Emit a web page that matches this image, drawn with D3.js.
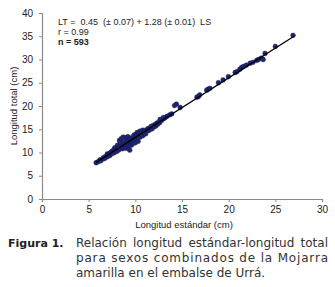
<!DOCTYPE html>
<html>
<head>
<meta charset="utf-8">
<script src="https://cdn.jsdelivr.net/npm/d3@7"></script>
<style>
  body { margin: 0; background: #fff; }
  svg { display: block; }
</style>
</head>
<body>
<div id="chart"></div>
<script>
// Longitud estándar (LS) vs longitud total (LT), cm
const ls = [
  5.8, 6.0, 6.2, 6.3, 6.5, 6.6, 6.7, 6.8, 6.9, 7.0, 7.0, 7.1, 7.2, 7.3, 7.3, 7.4, 7.5, 7.5, 7.6, 7.7,
  7.7, 7.8, 7.8, 7.9, 8.0, 8.0, 8.1, 8.1, 8.2, 8.2, 8.3, 8.3, 8.4, 8.4, 8.5, 8.5, 8.6, 8.6, 8.7, 8.7,
  8.8, 8.8, 8.9, 8.9, 9.0, 9.0, 9.1, 9.1, 9.2, 9.2, 9.3, 9.3, 9.4, 9.4, 9.5, 9.5, 9.6, 9.6, 9.7, 9.7,
  9.8, 9.8, 9.9, 9.9, 10.0, 10.0, 10.1, 10.1, 10.2, 10.2, 10.3, 10.3, 10.4, 10.5, 10.5, 10.6, 10.7, 10.8, 10.8, 10.9,
  11.0, 11.1, 11.2, 11.3, 11.4, 11.5, 11.6, 11.7, 11.8, 11.9, 12.0, 12.1, 12.2, 12.3, 12.4, 12.5, 12.6, 12.8, 13.0, 13.2,
  13.4, 13.7, 12.65, 13.0, 13.9, 14.4, 14.2, 14.8, 16.6, 16.75, 16.9, 17.65, 17.8, 18.0, 18.9, 19.4, 19.97, 20.7, 20.9, 21.2,
  21.4, 21.6, 21.9, 22.3, 22.6, 23.0, 23.2, 23.5, 23.7, 23.9, 25.0, 26.9
];
const lt = [
  7.8, 8.0, 8.4, 8.2, 8.6, 8.9, 8.7, 9.1, 9.0, 9.4, 9.7, 9.2, 9.6, 9.9, 9.4, 10.0, 9.8, 10.3, 10.1, 10.6,
  9.9, 10.4, 11.0, 10.7, 10.2, 11.2, 10.8, 11.6, 10.5, 11.0, 12.6, 10.9, 11.3, 12.4, 13.0, 11.1, 11.8, 10.8, 13.3, 11.4,
  12.1, 11.0, 13.2, 11.7, 12.3, 10.9, 12.8, 11.6, 12.1, 13.4, 11.3, 12.6, 10.5, 12.9, 11.9, 13.1, 12.4, 11.6, 13.0, 12.2,
  13.5, 12.0, 12.7, 13.8, 13.2, 12.1, 13.9, 12.8, 14.3, 13.0, 13.6, 12.4, 14.0, 13.3, 14.6, 13.8, 14.2, 13.6, 14.8, 14.1,
  14.5, 14.0, 14.9, 14.6, 15.2, 14.8, 15.3, 15.6, 15.1, 15.8, 15.5, 16.0, 15.7, 16.3, 16.1, 16.5, 16.4, 16.9, 17.2, 17.5,
  17.8, 18.1, 17.1, 17.5, 18.3, 20.4, 20.1, 19.7, 21.9, 22.0, 22.4, 23.4, 23.6, 23.8, 25.0, 25.6, 26.3, 27.2, 27.4, 27.9,
  28.3, 28.5, 28.8, 29.2, 29.4, 29.8, 30.0, 30.3, 30.0, 31.3, 32.8, 35.2
];

// regression LT = a + b LS
const intercept = 0.45;
const slope = 1.28;
const fitRange = [5.8, 27];

const xTicks = [0, 5, 10, 15, 20, 25, 30];
const yTicks = [0, 5, 10, 15, 20, 25, 30, 35, 40];

const annotation = [
  "LT =  0.45  (± 0.07) + 1.28 (± 0.01)  LS",
  "r = 0.99",
  "n = 593"
];
const captionLabel = "Figura 1.";
const captionLines = [
  "Relación longitud estándar-longitud total",
  "para sexos combinados de la Mojarra",
  "amarilla en el embalse de Urrá."
];

const W = 335, H = 287;
const plot = { left: 42, right: 322, top: 13, bottom: 199 };

const svg = d3.select("#chart").append("svg")
    .attr("width", W)
    .attr("height", H);

const x = d3.scaleLinear().domain([0, 30]).range([plot.left, plot.right]);
const y = d3.scaleLinear().domain([0, 40]).range([plot.bottom, plot.top]);

const axisColor = "#8a8a8a";
const tickFont = "'Liberation Sans', Arial, sans-serif";

// X axis
const gx = svg.append("g")
    .attr("transform", `translate(0,${plot.bottom})`)
    .call(d3.axisBottom(x).tickValues(xTicks).tickSize(3).tickPadding(4));
// Y axis
const gy = svg.append("g")
    .attr("transform", `translate(${plot.left},0)`)
    .call(d3.axisLeft(y).tickValues(yTicks).tickSize(3).tickPadding(6));

[gx, gy].forEach(g => {
  g.select(".domain").attr("stroke", axisColor).attr("stroke-width", 1.2);
  g.selectAll(".tick line").attr("stroke", axisColor).attr("stroke-width", 1);
  g.selectAll(".tick text")
      .attr("fill", "#222")
      .style("font-family", tickFont)
      .style("font-size", "10px");
});

// axis titles
svg.append("text")
    .attr("x", 184)
    .attr("y", 228)
    .attr("text-anchor", "middle")
    .style("font-family", tickFont)
    .style("font-size", "9.5px")
    .attr("fill", "#222")
    .text("Longitud estándar (cm)");

svg.append("text")
    .attr("transform", "translate(17,106) rotate(-90)")
    .attr("text-anchor", "middle")
    .style("font-family", tickFont)
    .style("font-size", "9.5px")
    .attr("fill", "#222")
    .text("Longitud total (cm)");

// points
const pts = ls.map((v, i) => ({ ls: v, lt: lt[i] }));
svg.append("g")
  .selectAll("circle")
  .data(pts)
  .join("circle")
    .attr("cx", d => x(d.ls))
    .attr("cy", d => y(d.lt))
    .attr("r", 2.4)
    .attr("fill", "#1f2670")
    .attr("stroke", "#141a52")
    .attr("stroke-width", 0.4);

// fitted line
svg.append("line")
    .attr("x1", x(fitRange[0]))
    .attr("y1", y(intercept + slope * fitRange[0]))
    .attr("x2", x(fitRange[1]))
    .attr("y2", y(intercept + slope * fitRange[1]))
    .attr("stroke", "#000")
    .attr("stroke-width", 1.3);

// regression annotation
svg.append("g")
  .selectAll("text")
  .data(annotation)
  .join("text")
    .attr("x", 58)
    .attr("y", (d, i) => 25 + i * 10)
    .style("font-family", tickFont)
    .style("font-size", "9px")
    .style("white-space", "pre")
    .attr("fill", "#222")
    .style("font-weight", (d, i) => i === 2 ? "bold" : "normal")
    .text(d => d);

// caption
const capFont = "'DejaVu Sans', Verdana, sans-serif";
svg.append("text")
    .attr("x", 8)
    .attr("y", 247)
    .style("font-family", capFont)
    .style("font-size", "11px")
    .style("font-weight", "bold")
    .attr("fill", "#222")
    .text(captionLabel);

const capX = 76, capRight = 328;
captionLines.forEach((line, i) => {
  const t = svg.append("text")
      .attr("x", capX)
      .attr("y", 247 + i * 15)
      .style("font-family", capFont)
      .style("font-size", "12px")
      .attr("fill", "#333")
      .text(line);
  // justify all but the last line; the second line is spread letter by letter
  if (i === 0) {
    const gaps = line.split(" ").length - 1;
    const extra = (capRight - capX) - t.node().getComputedTextLength();
    t.attr("word-spacing", extra / gaps);
  } else if (i === 1) {
    t.attr("textLength", capRight - capX).attr("lengthAdjust", "spacing");
  }
});
</script>
</body>
</html>
